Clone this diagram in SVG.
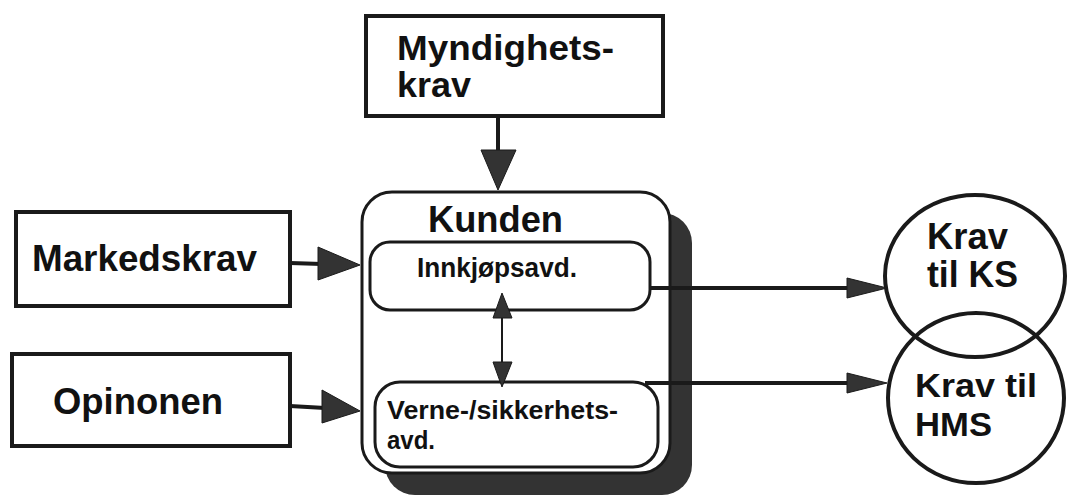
<svg xmlns="http://www.w3.org/2000/svg" width="1071" height="495" viewBox="0 0 1071 495">
<style>
.box{fill:#fff;stroke:#1a1a1a;stroke-width:4}
.rbox{fill:#fff;stroke:#1a1a1a;stroke-width:3}
.circ{fill:none;stroke:#1a1a1a;stroke-width:4}
.t{font-family:"Liberation Sans",Arial,sans-serif;font-weight:bold;fill:#111}
.ln{stroke:#1a1a1a;stroke-width:4;fill:none}
.thin{stroke:#1a1a1a;stroke-width:2;fill:none}
.head{fill:#333;stroke:#1a1a1a;stroke-width:1}
</style>
<rect width="1071" height="495" fill="#fff"/>
<g id="myndighetskrav">
<rect class="box" x="366" y="16" width="297" height="100"/>
<text class="t" x="397" y="60" font-size="35" textLength="217" lengthAdjust="spacingAndGlyphs">Myndighets-</text>
<text class="t" x="397" y="97" font-size="35" textLength="74" lengthAdjust="spacingAndGlyphs">krav</text>
</g>
<g id="markedskrav">
<rect class="box" x="16" y="212" width="274" height="94"/>
<text class="t" x="32" y="271" font-size="36" textLength="225" lengthAdjust="spacingAndGlyphs">Markedskrav</text>
</g>
<g id="opinonen">
<rect class="box" x="12" y="354" width="278" height="92"/>
<text class="t" x="53" y="414" font-size="37" textLength="170" lengthAdjust="spacingAndGlyphs">Opinonen</text>
</g>
<g id="kunden">
<rect x="385" y="213" width="307" height="282" rx="30" fill="#333"/>
<rect class="rbox" x="362" y="192" width="308" height="281" rx="30"/>
<text class="t" x="428" y="232" font-size="37" textLength="135" lengthAdjust="spacingAndGlyphs">Kunden</text>
</g>
<g id="innkjopsavd">
<rect class="rbox" x="370" y="242" width="280" height="68" rx="20"/>
<text class="t" x="417" y="277" font-size="27" textLength="160" lengthAdjust="spacingAndGlyphs">Innkjøpsavd.</text>
</g>
<g id="verneavd">
<rect class="rbox" x="375" y="382" width="283" height="85" rx="25"/>
<text class="t" x="387" y="419" font-size="26" textLength="231" lengthAdjust="spacingAndGlyphs">Verne-/sikkerhets-</text>
<text class="t" x="387" y="449" font-size="26" textLength="48" lengthAdjust="spacingAndGlyphs">avd.</text>
</g>
<g id="krav-ks">
<ellipse class="circ" cx="975" cy="276" rx="90" ry="81"/>
<text class="t" x="927" y="249" font-size="36" textLength="81" lengthAdjust="spacingAndGlyphs">Krav</text>
<text class="t" x="927" y="287" font-size="36" textLength="91" lengthAdjust="spacingAndGlyphs">til KS</text>
</g>
<g id="krav-hms">
<ellipse class="circ" cx="976" cy="398" rx="88" ry="85"/>
<text class="t" x="915" y="397" font-size="34" textLength="122" lengthAdjust="spacingAndGlyphs">Krav til</text>
<text class="t" x="915" y="436" font-size="34" textLength="77" lengthAdjust="spacingAndGlyphs">HMS</text>
</g>
<g id="connectors">
<line class="ln" x1="498" y1="116" x2="498" y2="152"/>
<polygon class="head" points="481,150 516,150 498,190"/>
<line class="ln" x1="290" y1="263" x2="322" y2="264"/>
<polygon class="head" points="318,247 318,280 360,265"/>
<line class="ln" x1="290" y1="406" x2="325" y2="408"/>
<polygon class="head" points="322,390 322,423 360,411"/>
<line class="thin" x1="502" y1="316" x2="502" y2="364"/>
<polygon class="head" points="493,318 512,318 502,293"/>
<polygon class="head" points="493,362 512,362 502,387"/>
<line class="ln" x1="650" y1="288" x2="849" y2="288"/>
<polygon class="head" points="847,278 887,288 847,298"/>
<line class="ln" x1="645" y1="383" x2="849" y2="383"/>
<polygon class="head" points="847,373 887,383 847,393"/>
</g>
</svg>
